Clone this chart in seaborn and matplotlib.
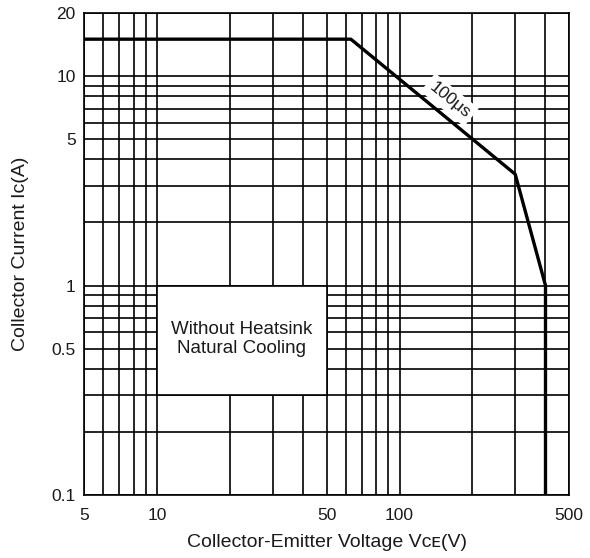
import numpy as np
import pandas as pd
import matplotlib
matplotlib.use("Agg")
import matplotlib.pyplot as plt
import matplotlib.ticker as mticker
from matplotlib.patches import Rectangle
import seaborn as sns

# safe operating area curve (100us pulse)
vce = [5, 63, 300, 400, 400]
ic = [15, 15, 3.4, 1.0, 0.1]

x_ticks = [5, 10, 50, 100, 500]
x_labels = ["5", "10", "50", "100", "500"]
y_ticks = [0.1, 0.5, 1, 5, 10, 20]
y_labels = ["0.1", "0.5", "1", "5", "10", "20"]

note_box_x = [10, 50]
note_box_y = [0.3, 1.0]

df = pd.DataFrame({"vce": vce, "ic": ic})

sns.set_style("white")
plt.rcParams['font.family'] = ['Liberation Sans', 'DejaVu Sans']

fig = plt.figure(figsize=(5.9, 5.58), dpi=100)
ax = fig.add_axes([0.1424, 0.1129, 0.822, 0.8638])

sns.lineplot(data=df, x="vce", y="ic", sort=False, estimator=None,
             color="black", linewidth=2.4, ax=ax, zorder=5)

ax.set_xscale("log")
ax.set_yscale("log")
ax.set_xlim(5, 500)
ax.set_ylim(0.1, 20)

ax.xaxis.set_major_locator(mticker.FixedLocator(x_ticks))
ax.xaxis.set_major_formatter(mticker.FixedFormatter(x_labels))
ax.yaxis.set_major_locator(mticker.FixedLocator(y_ticks))
ax.yaxis.set_major_formatter(mticker.FixedFormatter(y_labels))
ax.xaxis.set_minor_locator(mticker.LogLocator(base=10, subs=np.arange(1, 10)))
ax.yaxis.set_minor_locator(mticker.LogLocator(base=10, subs=np.arange(1, 10)))
ax.xaxis.set_minor_formatter(mticker.NullFormatter())
ax.yaxis.set_minor_formatter(mticker.NullFormatter())

ax.grid(which="both", color="black", linewidth=1.2)
ax.set_axisbelow(True)
ax.tick_params(which="both", length=0, labelsize=12.5, colors="#1a1a1a")
ax.tick_params(axis="x", pad=9)
ax.tick_params(axis="y", pad=6)

for s in ax.spines.values():
    s.set_color("black")
    s.set_linewidth(1.2)

# white note box
ax.add_patch(Rectangle((note_box_x[0], note_box_y[0]),
                       note_box_x[1] - note_box_x[0], note_box_y[1] - note_box_y[0],
                       facecolor="white", edgecolor="black", linewidth=1.2, zorder=2))
ax.text(22.4, 0.555, "Without Heatsink\nNatural Cooling", ha="center", va="center",
        fontsize=13.5, linespacing=1.15, zorder=3, color="#1a1a1a")

ax.text(161, 7.7, "100\u03bcs", rotation=-39, ha="center", va="center", fontsize=12.5,
        zorder=4, color="#1a1a1a",
        bbox=dict(facecolor="white", edgecolor="none", pad=3))

ax.set_xlabel("Collector-Emitter Voltage V\u1d04\u1d07(V)", fontsize=14, labelpad=8,
              color="#1a1a1a")
ax.set_ylabel("Collector Current I\u1d04(A)", fontsize=14, labelpad=16, color="#1a1a1a")

fig.savefig("out.png", dpi=100)
